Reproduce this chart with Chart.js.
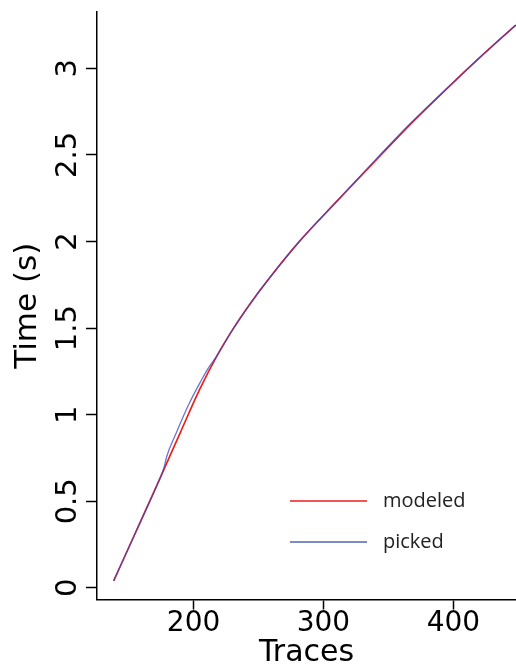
<!DOCTYPE html>
<html>
<head>
<meta charset="utf-8">
<script src="https://cdn.jsdelivr.net/npm/chart.js@4/dist/chart.umd.min.js"></script>
<style>
  html, body { margin: 0; padding: 0; background: #ffffff; }
  canvas { display: block; }
</style>
</head>
<body>
<canvas id="c" width="516" height="666"></canvas>
<script>
// ---- data ----
const modeledTraces = [138.5, 156, 174, 190, 205, 218, 230, 244, 258, 282, 310, 336, 368, 398, 420, 448];
const modeledTime   = [0.04, 0.33, 0.63, 0.90, 1.15, 1.34, 1.49, 1.645, 1.785, 2.005, 2.23, 2.435, 2.685, 2.905, 3.06, 3.25];

const pickedTraces = [138.5, 156, 174, 177.5, 179, 187, 197, 205, 211, 218, 230, 244, 258, 282, 310, 336, 368, 398, 420, 448];
const pickedTime   = [0.04, 0.33, 0.63, 0.70, 0.75, 0.90, 1.07, 1.185, 1.265, 1.34, 1.49, 1.645, 1.785, 2.005, 2.23, 2.44, 2.69, 2.905, 3.06, 3.25];

const seriesLabels = ['modeled', 'picked'];
const xTickValues = [200, 300, 400];
const yTickValues = [0, 0.5, 1, 1.5, 2, 2.5, 3];
const xTitle = 'Traces';
const yTitle = 'Time (s)';

const toPoints = (xs, ys) => xs.map((x, i) => ({ x: x, y: ys[i] }));

const insideLegend = {
  id: 'insideLegend',
  afterDatasetsDraw(chart, args, opts) {
    const ctx = chart.ctx;
    chart.data.datasets.forEach((ds, i) => {
      const y = opts.y + i * opts.spacing;
      ctx.save();
      ctx.strokeStyle = ds.legendColor || ds.borderColor;
      ctx.lineWidth = 1.6;
      ctx.beginPath();
      ctx.moveTo(opts.x, y);
      ctx.lineTo(opts.x + opts.lineLen, y);
      ctx.stroke();
      ctx.fillStyle = '#222222';
      ctx.font = opts.font;
      ctx.textBaseline = 'middle';
      ctx.textAlign = 'left';
      ctx.fillText(ds.label, opts.x + opts.lineLen + opts.gap, y);
      ctx.restore();
    });
  }
};

new Chart(document.getElementById('c'), {
  type: 'line',
  data: {
    datasets: [
      {
        label: seriesLabels[0],
        data: toPoints(modeledTraces, modeledTime),
        borderColor: 'rgb(232,35,30)',
        legendColor: 'rgb(235,30,30)',
        borderWidth: 1.7,
        pointRadius: 0,
        cubicInterpolationMode: 'monotone',
        order: 1
      },
      {
        label: seriesLabels[1],
        data: toPoints(pickedTraces, pickedTime),
        borderColor: 'rgba(60,70,195,0.75)',
        legendColor: 'rgb(80,100,175)',
        borderWidth: 1.3,
        pointRadius: 0,
        cubicInterpolationMode: 'monotone',
        order: 0
      }
    ]
  },
  options: {
    responsive: false,
    animation: false,
    layout: { padding: { top: 9, right: 0, left: 0, bottom: 0 } },
    plugins: {
      legend: { display: false },
      tooltip: { enabled: false },
      insideLegend: { x: 290, y: 501, spacing: 41, lineLen: 77, gap: 16, font: '20px "Open Sans"' }
    },
    scales: {
      x: {
        type: 'linear',
        min: 125.7,
        max: 448.2,
        afterBuildTicks: (s) => { s.ticks = xTickValues.map(v => ({ value: v })); },
        afterFit: (s) => { s.height = 66.5; },
        border: { display: true, color: '#000000', width: 1.5 },
        grid: { display: true, drawOnChartArea: false, drawTicks: true, tickLength: 10, tickColor: '#000000', tickWidth: 1.5 },
        ticks: {
          color: '#000000',
          padding: 0,
          maxRotation: 0,
          font: { family: '"DejaVu Sans"', size: 28, lineHeight: 1 },
          callback: (v) => String(v)
        },
        title: {
          display: true,
          text: xTitle,
          color: '#000000',
          font: { family: '"DejaVu Sans"', size: 30, lineHeight: 1 },
          padding: { top: 0, bottom: -2 }
        }
      },
      y: {
        type: 'linear',
        min: -0.067,
        max: 3.326,
        afterBuildTicks: (s) => { s.ticks = yTickValues.map(v => ({ value: v })); },
        afterFit: (s) => { s.width = 97; },
        border: { display: true, color: '#000000', width: 1.5 },
        grid: { display: true, drawOnChartArea: false, drawTicks: true, tickLength: 11, tickColor: '#000000', tickWidth: 1.5 },
        ticks: {
          color: '#000000',
          minRotation: 90,
          maxRotation: 90,
          crossAlign: 'center',
          padding: -5.5,
          font: { family: '"DejaVu Sans"', size: 29 },
          callback: (v) => String(v)
        },
        title: {
          display: true,
          text: yTitle,
          color: '#000000',
          font: { family: '"DejaVu Sans"', size: 31, lineHeight: 1.2 },
          padding: { top: 9, bottom: 0 }
        }
      }
    }
  },
  plugins: [insideLegend]
});
</script>
</body>
</html>
